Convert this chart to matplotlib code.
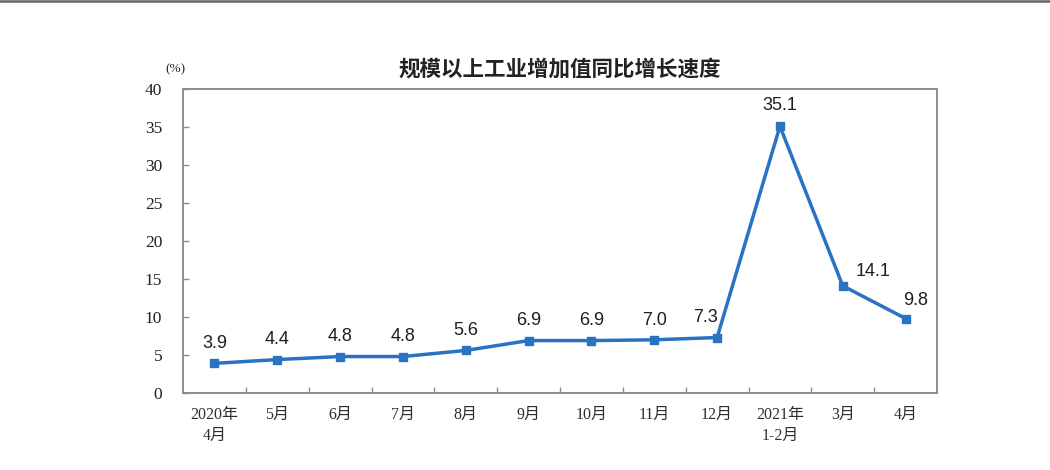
import matplotlib
matplotlib.use("Agg")
import matplotlib.pyplot as plt
from matplotlib.lines import Line2D

# Industrial value-added growth, year on year (%)
months = ["2020年\n4月", "5月", "6月", "7月", "8月", "9月", "10月", "11月",
          "12月", "2021年\n1-2月", "3月", "4月"]
growth = [3.9, 4.4, 4.8, 4.8, 5.6, 6.9, 6.9, 7.0, 7.3, 35.1, 14.1, 9.8]
yticks = [0, 5, 10, 15, 20, 25, 30, 35, 40]

# label offsets (points) for the value annotations
label_offsets = [(0, 8), (0, 8), (0, 8), (0, 8), (0, 8), (0, 8),
                 (0, 8), (0, 8), (-8, 8), (0, 9), (22, 4), (7, 7)]

serif_cjk = ["Liberation Serif", "Noto Sans CJK SC"]
line_color = "#2a72c4"
spine_color = "#8c8c8c"

fig = plt.figure(figsize=(10.5, 4.7), dpi=100)
fig.patch.set_facecolor("white")
ax = fig.add_axes([0.1743, 0.1638, 0.7181, 0.6468])

x = list(range(len(months)))
ax.plot(x, growth, color=line_color, lw=2.5, marker="s", ms=5.5,
        markerfacecolor=line_color, markeredgecolor=line_color, zorder=3)

for xi, v, (dx, dy) in zip(x, growth, label_offsets):
    ax.annotate(f"{v:.1f}", (xi, v), xytext=(dx, dy), textcoords="offset points",
                ha="center", va="bottom", fontsize=13, color="#1e1e1e",
                family="Liberation Sans")

ax.set_xlim(-0.5, len(months) - 0.5)
ax.set_ylim(0, 40)
ax.set_yticks(yticks)
ax.set_yticklabels([str(t) for t in yticks], family="Liberation Serif",
                   fontsize=12.5, color="#222222")

# category labels centred between boundary ticks
ax.set_xticks(x)
ax.set_xticklabels(months, fontsize=11.5, color="#2e2e2e", linespacing=1.45)
for lbl in ax.get_xticklabels():
    lbl.set_family(serif_cjk)
    lbl.set_verticalalignment("top")
ax.tick_params(axis="x", length=0, pad=10)
ax.set_xticks([i + 0.5 for i in range(len(months) - 1)], minor=True)
ax.tick_params(axis="x", which="minor", direction="in", length=4,
               color=spine_color, width=1)
ax.tick_params(axis="y", direction="in", length=4, color=spine_color,
               width=1, pad=15)

for s in ax.spines.values():
    s.set_color(spine_color)
    s.set_linewidth(1.4)

fig.text(0.5335, 0.853, "规模以上工业增加值同比增长速度", ha="center", va="center",
         fontsize=15.5, family="Noto Sans CJK SC", weight="bold", color="#222222")
fig.text(0.167, 0.853, "(%)", ha="center", va="center", fontsize=9.5,
         family="Liberation Serif", color="#222222")

# thin dark rule along the top edge
fig.add_artist(Line2D([0, 1], [0.998, 0.998], transform=fig.transFigure,
                      color="#666666", lw=1.8))

fig.savefig("out.png", dpi=100, facecolor="white")
